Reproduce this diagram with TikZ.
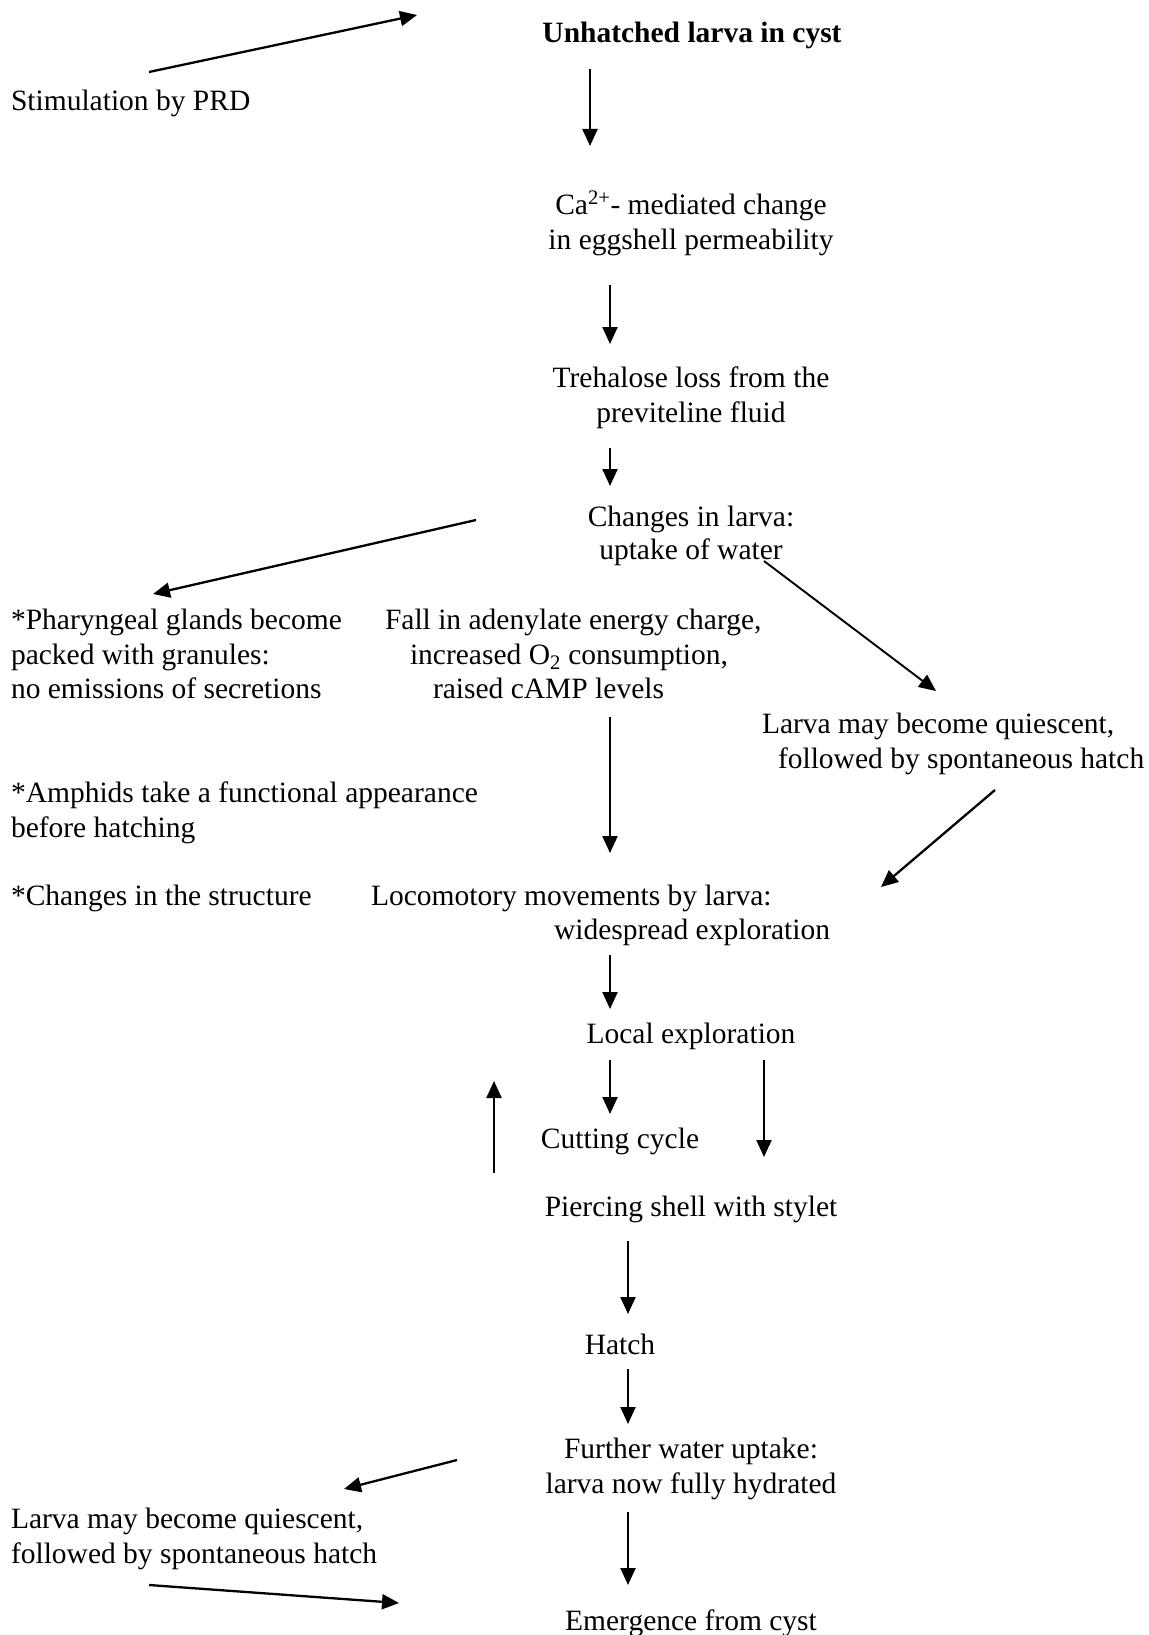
\documentclass[tikz,border=0pt]{standalone}
\usepackage{fontspec}
\setmainfont{Liberation Serif}
\usetikzlibrary{arrows.meta}
\begin{document}
\begin{tikzpicture}[x=1pt,y=-1pt,
  every node/.style={inner sep=0pt,outer sep=0pt,font=\fontsize{29.5}{34.5}\selectfont},
  ctr/.style={anchor=base},
  lft/.style={anchor=base west},
  conn/.style={line width=2.3pt,-{Triangle[length=17pt,width=15pt]}},
  thinconn/.style={line width=1.9pt,-{Triangle[length=17pt,width=15pt]}}]
\useasboundingbox (0,0) rectangle (1148,1635);
% texts
\node[ctr] (t1) at (692,42.5) {\bfseries Unhatched larva in cyst};
\node[lft] (t2) at (11,110.5) {Stimulation by PRD};
\node[ctr] (t3a) at (691,214) {Ca\textsuperscript{2+}- mediated change};
\node[ctr] (t3b) at (691,249) {in eggshell permeability};
\node[ctr] (t4a) at (691,387) {Trehalose loss from the};
\node[ctr] (t4b) at (691,422) {previteline fluid};
\node[ctr] (t5a) at (691,526) {Changes in larva:};
\node[ctr] (t5b) at (691,559.5) {uptake of water};
\node[lft] (t6a) at (11,629.5) {*Pharyngeal glands become};
\node[lft] (t6b) at (11,664) {packed with granules:};
\node[lft] (t6c) at (11,698.5) {no emissions of secretions};
\node[lft] (t7a) at (385,629.5) {Fall in adenylate energy charge,};
\node[lft] (t7b) at (410,664) {increased O\textsubscript{2} consumption,};
\node[lft] (t7c) at (433,698.5) {raised cAMP levels};
\node[lft] (t8a) at (762,733) {Larva may become quiescent,};
\node[lft] (t8b) at (778,768) {followed by spontaneous hatch};
\node[lft] (t9a) at (11,802.5) {*Amphids take a functional appearance};
\node[lft] (t9b) at (11,837) {before hatching};
\node[lft] (t10) at (11,905.5) {*Changes in the structure};
\node[lft] (t11a) at (371,905.5) {Locomotory movements by larva:};
\node[lft] (t11b) at (554,939) {widespread exploration};
\node[ctr] (t12) at (691,1043) {Local exploration};
\node[ctr] (t13) at (620,1148) {Cutting cycle};
\node[ctr] (t14) at (691,1216) {Piercing shell with stylet};
\node[ctr] (t15) at (620,1354) {Hatch};
\node[ctr] (t16a) at (691,1458) {Further water uptake:};
\node[ctr] (t16b) at (691,1493) {larva now fully hydrated};
\node[lft] (t17a) at (11,1528) {Larva may become quiescent,};
\node[lft] (t17b) at (11,1563) {followed by spontaneous hatch};
\node[ctr] (t18) at (691,1630) {Emergence from cyst};
% connector end points
\coordinate (a1s) at (149,72);   \coordinate (a1e) at (417,15);
\coordinate (a2s) at (590,69);   \coordinate (a2e) at (590,146);
\coordinate (a3s) at (610,285);  \coordinate (a3e) at (610,344);
\coordinate (a4s) at (610,448);  \coordinate (a4e) at (610,486);
\coordinate (a5s) at (476,520);  \coordinate (a5e) at (153,594);
\coordinate (a6s) at (764,561);  \coordinate (a6e) at (936,691);
\coordinate (a7s) at (610,717);  \coordinate (a7e) at (610,853);
\coordinate (a8s) at (995,790);  \coordinate (a8e) at (881,887);
\coordinate (a9s) at (610,955);  \coordinate (a9e) at (610,1009);
\coordinate (a10s) at (610,1060); \coordinate (a10e) at (610,1114);
\coordinate (a11s) at (764,1060); \coordinate (a11e) at (764,1157);
\coordinate (a12s) at (494,1173); \coordinate (a12e) at (494,1081);
\coordinate (a13s) at (628,1241); \coordinate (a13e) at (628,1314);
\coordinate (a14s) at (628,1369); \coordinate (a14e) at (628,1424);
\coordinate (a15s) at (457,1460); \coordinate (a15e) at (344,1489);
\coordinate (a16s) at (628,1512); \coordinate (a16e) at (628,1585);
\coordinate (a17s) at (149,1585); \coordinate (a17e) at (399,1603);
% connectors
\draw[conn] (a1s) -- (a1e);
\draw[conn] (a2s) -- (a2e);
\draw[conn] (a3s) -- (a3e);
\draw[conn] (a4s) -- (a4e);
\draw[conn] (a5s) -- (a5e);
\draw[thinconn] (a6s) -- (a6e);
\draw[conn] (a7s) -- (a7e);
\draw[conn] (a8s) -- (a8e);
\draw[conn] (a9s) -- (a9e);
\draw[conn] (a10s) -- (a10e);
\draw[conn] (a11s) -- (a11e);
\draw[conn] (a12s) -- (a12e);
\draw[conn] (a13s) -- (a13e);
\draw[conn] (a14s) -- (a14e);
\draw[conn] (a15s) -- (a15e);
\draw[conn] (a16s) -- (a16e);
\draw[conn] (a17s) -- (a17e);
\end{tikzpicture}
\end{document}
